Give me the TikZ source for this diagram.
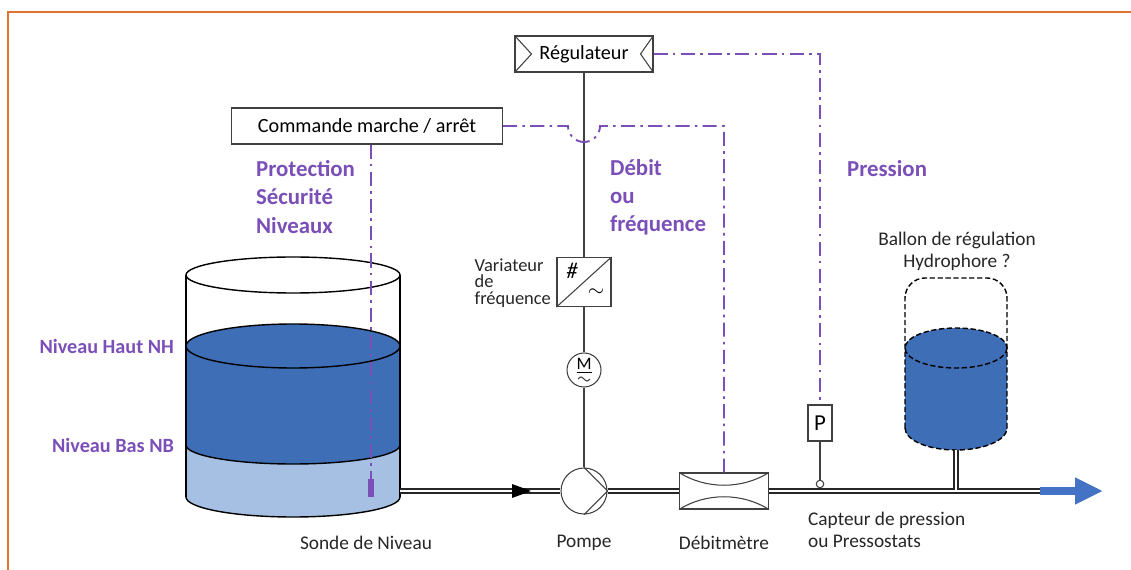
\documentclass[tikz,border=0pt]{standalone}
\usepackage{fontspec}
\setmainfont{Carlito}
\usetikzlibrary{arrows.meta,calc,positioning}
\definecolor{Violet}{HTML}{7B4FB8}
\definecolor{Deep}{HTML}{3E6EB6}
\definecolor{Pale}{HTML}{A6C0E3}
\definecolor{Flow}{HTML}{4472C4}
\definecolor{Frame}{HTML}{E2732F}
\definecolor{Ink}{HTML}{404040}

\tikzset{
  box/.style={draw=Ink,semithick,fill=white,minimum height=0.72cm,inner sep=0pt,
    font=\fontsize{11.5}{13}\selectfont},
  ctrl/.style={Violet,line width=1.1pt,dash pattern=on 8pt off 3pt on 1.5pt off 3pt},
  pipe/.style={draw=black!85,line width=1.2pt,double=white,double distance=0.6pt},
  wire/.style={Ink,semithick},
  hdash/.style={black,thick,dash pattern=on 3pt off 1.5pt},
  lbl/.style={inner sep=1pt,text=black!85,font=\fontsize{11}{12.5}\selectfont},
  sig/.style={inner sep=1pt,text=Violet,align=left,font=\fontsize{13}{16}\selectfont\bfseries},
}

\begin{document}
\begin{tikzpicture}[x=0.02cm,y=-0.02cm]
  \useasboundingbox (0,0) rectangle (1131,570);
  \draw[Frame,line width=0.9pt] (8,570) -- (8,12) -- (1131,12);

  % tank with two levels
  \fill[Pale] (186,445) -- (186,497) arc[start angle=180,end angle=0,x radius=107,y radius=20]
    -- (400,445) arc[start angle=0,end angle=180,x radius=107,y radius=19] -- cycle;
  \fill[Deep] (186,346) -- (186,445) arc[start angle=180,end angle=0,x radius=107,y radius=19]
    -- (400,346) arc[start angle=0,end angle=-180,x radius=107,y radius=22] -- cycle;
  \draw[thick] (293,346) ellipse[x radius=107,y radius=22];
  \draw[thick] (293,275) ellipse[x radius=107,y radius=18];
  \draw[thick] (186,275) -- (186,497) (400,275) -- (400,497);
  \draw[thick] (186,445) arc[start angle=180,end angle=0,x radius=107,y radius=19];
  \draw[thick] (186,497) arc[start angle=180,end angle=0,x radius=107,y radius=20];
  \node[inner sep=0pt,fill=Violet,minimum width=0.12cm,minimum height=0.36cm] (probe) at (371,488) {};

  % hydrophore
  \fill[Deep] (905,348) -- (905,428) arc[start angle=180,end angle=0,x radius=51,y radius=22]
    -- (1007,348) arc[start angle=0,end angle=-180,x radius=51,y radius=20] -- cycle;
  \draw[hdash,rounded corners=0.4cm] (905,428) -- (905,278) -- (1007,278) -- (1007,428);
  \draw[hdash] (905,428) arc[start angle=180,end angle=0,x radius=51,y radius=22];
  \draw[hdash] (956,348) ellipse[x radius=51,y radius=20];
  \coordinate (ballbot) at (956,450);

  % control and drive chain
  \node[box,minimum width=2.76cm] (reg) at (584,54) {Régulateur};
  \draw[wire] (reg.north west) -- ($(reg.west)+(17,0)$) -- (reg.south west)
    (reg.north east) -- ($(reg.east)+(-13,0)$) -- (reg.south east);
  \node[box,minimum width=5.42cm] (cmd) at (367,126) {Commande marche / arrêt};
  \node[box,minimum width=1.08cm,minimum height=0.98cm] (var) at (584,282) {};
  \draw[wire] (var.south west) -- (var.north east);
  \node[inner sep=0pt,font=\fontsize{13}{13}\selectfont\itshape] (dcsym) at ($(var.center)+(-12,-11)$) {\#};
  \node[inner sep=0pt,font=\large] (acsym) at ($(var.center)+(12,11)$) {$\sim$};
  \node[lbl,align=left,anchor=east,font=\fontsize{10.5}{9.5}\selectfont] (varlbl) at (553,283)
    {Variateur\\de\\fréquence};
  \node[circle,draw=Ink,semithick,minimum size=0.68cm,inner sep=0pt] (mot) at (584,370) {};
  \node[inner sep=0pt,font=\fontsize{10}{10}\selectfont] (motm) at ($(mot.center)+(0,-4)$) {\underline{M}};
  \draw[wire] ($(mot.center)+(-6,9)$) sin ++(3,-2) cos ++(3,2) sin ++(3,2) cos ++(3,-2);
  \node[circle,draw=Ink,semithick,fill=white,minimum size=0.92cm,inner sep=0pt] (pump) at (584,491) {};
  \draw[wire] (pump.north) -- (pump.east) -- (pump.south);
  \draw[wire] (reg.south) -- (var.north) (var.south) -- (mot.north) (mot.south) -- (pump.north);

  % flow meter and pressure sensor
  \node[box,minimum width=1.78cm] (deb) at (724,491) {};
  \draw[wire] (deb.north west) .. controls ($(deb.north west)!0.3!(deb.north east)+(0,17)$)
      and ($(deb.north west)!0.7!(deb.north east)+(0,17)$) .. (deb.north east)
    (deb.south west) .. controls ($(deb.south west)!0.3!(deb.south east)+(0,-17)$)
      and ($(deb.south west)!0.7!(deb.south east)+(0,-17)$) .. (deb.south east);
  \node[box,minimum width=0.48cm,font=\fontsize{13}{13}\selectfont] (psens) at (820,423) {P};
  \node[circle,draw=Ink,semithick,fill=white,minimum size=0.15cm,inner sep=0pt] (ptap) at (820,484) {};
  \draw[wire] (psens) -- (ptap);

  % piping
  \coordinate (tankout) at (400,491);
  \coordinate (tee) at (956,491);
  \coordinate (pipeend) at (1040,491);
  \coordinate (outlet) at (1103,491);
  \draw[pipe] (tankout) -- (pump.west) (pump.east) -- (deb.west) (deb.east) -- (pipeend)
    (ballbot) -- (tee);
  \fill[black] (512,484) -- (531,491) -- (512,498) -- cycle;
  \draw[Flow,line width=0.16cm,-{Triangle[length=0.56cm,width=0.5cm]}] (pipeend) -- (outlet);

  % signal lines
  \coordinate (hop) at (568,126);
  \draw[ctrl] (cmd.east) -- (hop) arc[start angle=180,end angle=0,radius=16] -| (deb.north);
  \draw[ctrl] (reg.east) -| (psens.north);
  \draw[ctrl] (probe.north |- cmd.south) -- (probe.north);

  % labels
  \node[sig,anchor=west] (protlbl) at (254,197) {Protection\\Sécurité\\Niveaux};
  \node[sig,anchor=west] (debitlbl) at (608,197) {Débit\\ou\\fréquence};
  \node[sig,anchor=west] (preslbl) at (845,169) {Pression};
  \node[sig,anchor=east,font=\fontsize{11.5}{13}\selectfont\bfseries] (nhlbl) at (176,346) {Niveau Haut NH};
  \node[sig,anchor=east,font=\fontsize{11.5}{13}\selectfont\bfseries] (nblbl) at (176,445) {Niveau Bas NB};
  \node[lbl] (sondelbl) at (366,543) {Sonde de Niveau};
  \node[lbl] (pompelbl) at (584,543) {Pompe};
  \node[lbl] (deblbl) at (724,543) {Débitmètre};
  \node[lbl,align=left,anchor=west] (capteurlbl) at (806,530) {Capteur de pression\\ou Pressostats};
  \node[lbl,align=center] (ballonlbl) at (957,251) {Ballon de régulation\\Hydrophore ?};
\end{tikzpicture}
\end{document}
